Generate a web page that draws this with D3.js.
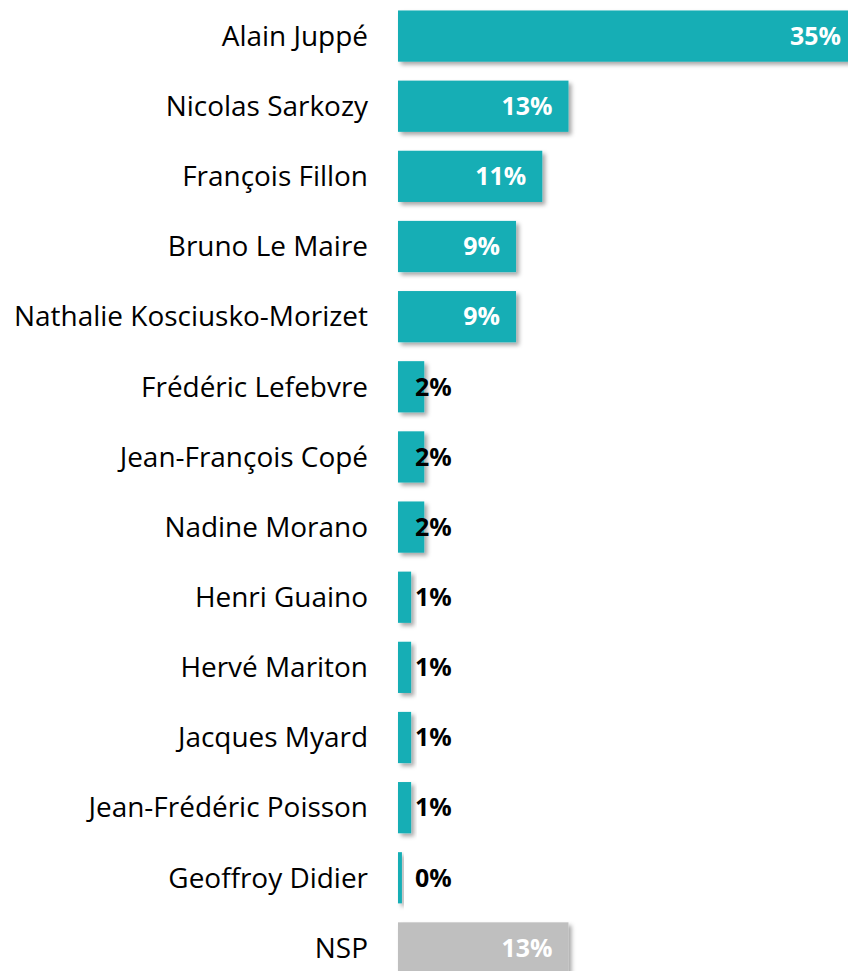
<!DOCTYPE html>
<html>
<head>
<meta charset="utf-8">
<script src="https://cdn.jsdelivr.net/npm/d3@7"></script>
<style>
  html, body { margin: 0; padding: 0; background: #fff; }
  svg { display: block; }
</style>
</head>
<body>
<svg id="chart" width="848" height="971"></svg>
<script>
const categories = [
  "Alain Juppé", "Nicolas Sarkozy", "François Fillon", "Bruno Le Maire",
  "Nathalie Kosciusko-Morizet", "Frédéric Lefebvre", "Jean-François Copé",
  "Nadine Morano", "Henri Guaino", "Hervé Mariton", "Jacques Myard",
  "Jean-Frédéric Poisson", "Geoffroy Didier", "NSP"
];
const values = [35, 13, 11, 9, 9, 2, 2, 2, 1, 1, 1, 1, 0.3, 13];
const valueLabels = ["35%", "13%", "11%", "9%", "9%", "2%", "2%", "2%", "1%", "1%", "1%", "1%", "0%", "13%"];
const barColors = ["#14AEB5", "#14AEB5", "#14AEB5", "#14AEB5", "#14AEB5", "#14AEB5", "#14AEB5",
  "#14AEB5", "#14AEB5", "#14AEB5", "#14AEB5", "#14AEB5", "#14AEB5", "#BFBFBF"];

const svg = d3.select("#chart");
const x0 = 398;
const x = d3.scaleLinear().domain([0, 35]).range([x0, 857]);
const y = d3.scaleBand().domain(categories).range([1, 983]).paddingInner(0.27).paddingOuter(0.135);

const defs = svg.append("defs");
const f = defs.append("filter").attr("id", "shadow")
  .attr("x", "-20%").attr("y", "-20%").attr("width", "160%").attr("height", "160%");
f.append("feDropShadow").attr("dx", 3).attr("dy", 3).attr("stdDeviation", 2)
  .attr("flood-color", "#000").attr("flood-opacity", 0.35);

const data = categories.map((c, i) => ({ c, v: values[i], lab: valueLabels[i], col: barColors[i] }));

svg.append("g").selectAll("rect").data(data).join("rect")
  .attr("x", x0)
  .attr("y", d => y(d.c))
  .attr("width", d => x(d.v) - x0)
  .attr("height", y.bandwidth())
  .attr("fill", d => d.col)
  .attr("filter", "url(#shadow)");

// Category labels
const catG = svg.append("g");
const catTexts = catG.selectAll("text").data(data).join("text")
  .attr("x", 368)
  .attr("y", d => y(d.c) + y.bandwidth() / 2)
  .attr("dy", "0.35em")
  .attr("text-anchor", "end")
  .attr("font-family", "'Open Sans', sans-serif")
  .attr("font-size", 24)
  .attr("fill", "#000")
  .text(d => d.c);
const longest = catTexts.filter(d => d.c === "Nathalie Kosciusko-Morizet").node();
const w = longest.getComputedTextLength();
const fs = 24 * 354 / w;
catTexts.attr("font-size", fs);

// Value labels
const valTexts = svg.append("g").selectAll("text").data(data).join("text")
  .attr("y", d => y(d.c) + y.bandwidth() / 2)
  .attr("dy", "0.35em")
  .attr("font-family", "'Open Sans', sans-serif")
  .attr("font-weight", "bold")
  .attr("font-size", 22)
  .text(d => d.lab);
const ref = valTexts.filter(d => d.lab === "35%").node();
const vfs = 22 * 51 / ref.getComputedTextLength();
valTexts.attr("font-size", vfs)
  .attr("x", d => d.v >= 5 ? x(d.v) - 16 : 415)
  .attr("text-anchor", d => d.v >= 5 ? "end" : "start")
  .attr("fill", d => d.v >= 5 ? "#fff" : "#000");
</script>
</body>
</html>
